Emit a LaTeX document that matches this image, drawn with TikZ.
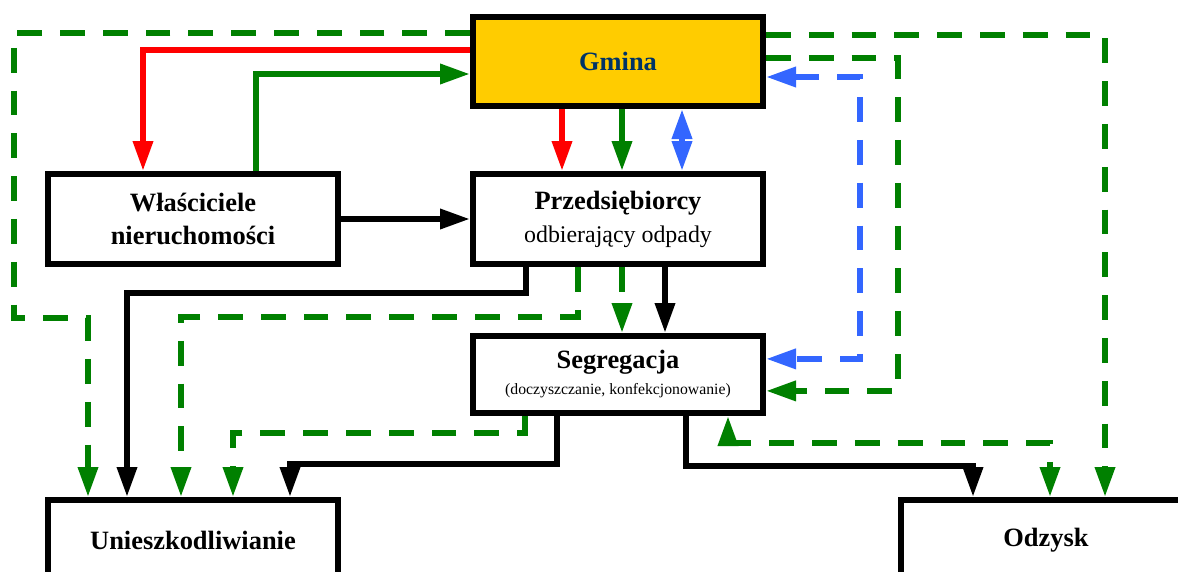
\documentclass[tikz,border=0pt]{standalone}
\usepackage{fontspec}
\setmainfont{Liberation Serif}
\usetikzlibrary{calc,arrows.meta}

\definecolor{gminagold}{HTML}{FFCC00}
\definecolor{gminatext}{HTML}{003366}
\definecolor{flowgreen}{HTML}{008000}
\definecolor{flowblue}{HTML}{3366FF}

\begin{document}
\begin{tikzpicture}[
    >={Triangle[width=0.48cm,length=0.75cm]},
    box/.style={draw=black, line width=0.15cm, fill=white, minimum width=7.25cm, inner sep=0pt, align=center, font=\fontsize{18.8}{23.5}\selectfont\bfseries},
    flow/.style={line width=0.15cm},
    dflow/.style={flow, flowgreen, dash pattern=on 0.62cm off 0.45cm},
    bflow/.style={flow, flowblue, dash pattern=on 0.62cm off 0.45cm},
    oneway/.style={->},
    twoway/.style={<->}
]
    \useasboundingbox (0,0) rectangle (29.45,14.275);

    % boxes
    \node[box, fill=gminagold, text=gminatext, minimum height=2.225cm] (gmina) at (15.45,12.7375) {Gmina};
    \node[box, minimum height=2.25cm] (wlasc) at (4.825,8.8) {Właściciele\\nieruchomości};
    \node[box, minimum height=2.25cm] (przed) at (15.45,8.8) {Przedsiębiorcy\\{\mdseries\fontsize{17}{21}\selectfont odbierający odpady}};
    \node[box, minimum height=1.925cm] (segr) at (15.45,4.9125) {Segregacja\\[-5pt]{\mdseries\fontsize{11.2}{13}\selectfont (doczyszczanie, konfekcjonowanie)}};
    \node[box, minimum height=2cm, anchor=north] (uniesz) at (4.825,1.85) {Unieszkodliwianie};
    \node[box, minimum height=2cm, anchor=north] (odzysk) at (26.15,1.85) {Odzysk};

    % gmina <-> wlasciciele
    \draw[flow, red, ->] ($(gmina.west)+(0,0.2875)$) -| ($(wlasc.north)+(-1.25,0)$);
    \draw[flow, flowgreen, ->] ($(wlasc.north)+(1.575,0)$) |- ($(gmina.west)+(0,-0.3125)$);
    \draw[flow, ->] (wlasc) -- (przed);

    % gmina -> przedsiebiorcy
    \foreach \dx/\col/\way in {-1.4/red/oneway, 0.1/flowgreen/oneway, 1.6/flowblue/twoway} {
        \draw[flow, \col, \way] ($(gmina.south)+(\dx,0)$) -- ($(przed.north)+(\dx,0)$);
    }

    % dashed loops round the boxes
    \draw[dflow, ->] ($(gmina.west)+(0,0.7125)$) -- ++(-11.4,0) -- ++(0,-7.125) -| ($(uniesz.north)+(-2.625,0)$);
    \draw[dflow, ->] ($(gmina.east)+(0,0.6625)$) -| ($(odzysk.north)+(1.475,0)$);
    \draw[dflow, ->] ($(gmina.east)+(0,0.0875)$) -- ++(3.3,0) |- ($(segr.east)+(0,-0.41)$);
    \draw[bflow, <->] ($(gmina.east)+(0,-0.3875)$) -- ++(2.35,0) |- ($(segr.east)+(0,0.39)$);

    % przedsiebiorcy -> segregacja / unieszkodliwianie
    \draw[flow, ->] ($(przed.south)+(-2.3,0)$) -- ++(0,-0.65) -| ($(uniesz.north)+(-1.65,0)$);
    \draw[dflow, ->] ($(przed.south)+(-1,0)$) -- ++(0,-1.25) -| ($(uniesz.north)+(-0.3,0)$);
    \draw[dflow, ->] ($(przed.south)+(0.1,0)$) -- ($(segr.north)+(0.1,0)$);
    \draw[flow, ->] ($(przed.south)+(1.175,0)$) -- ($(segr.north)+(1.175,0)$);

    % segregacja -> unieszkodliwianie / odzysk
    \draw[dflow, ->] ($(segr.south)+(-2.325,0)$) -- ++(0,-0.425) -| ($(uniesz.north)+(1,0)$);
    \draw[flow, ->] ($(segr.south)+(-1.525,0)$) -- ++(0,-1.2) -| ($(uniesz.north)+(2.425,0)$);
    \draw[flow, ->] ($(segr.south)+(1.7,0)$) -- ++(0,-1.25) -| ($(odzysk.north)+(-1.825,0)$);
    \draw[dflow, <->] ($(segr.south)+(2.75,0)$) -- ++(0,-0.675) -| ($(odzysk.north)+(0.1,0)$);

\end{tikzpicture}
\end{document}
